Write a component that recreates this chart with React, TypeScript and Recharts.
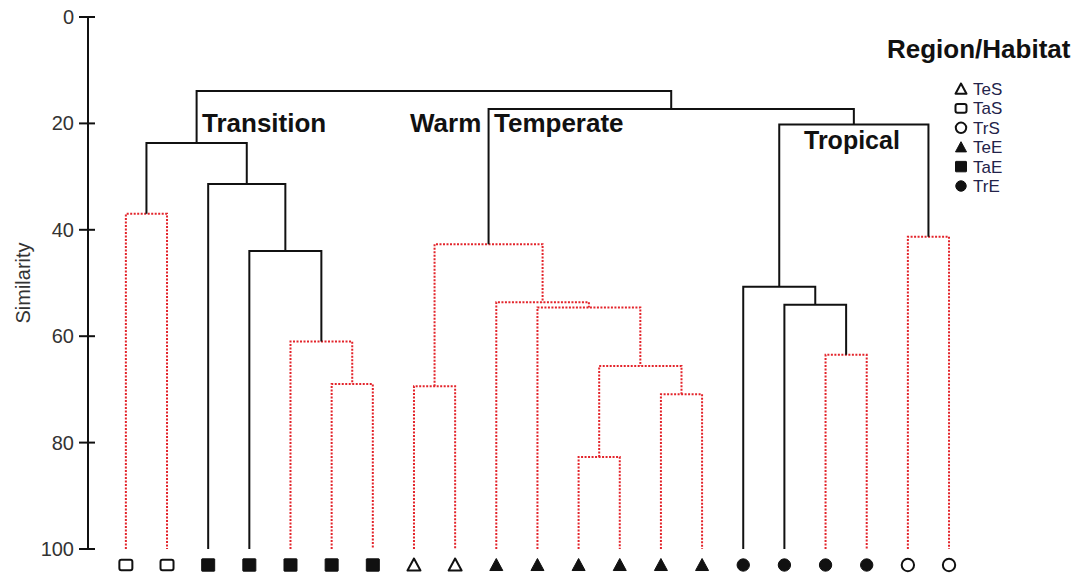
import { ComposedChart, Line, Scatter, XAxis, YAxis } from "recharts";

// leaf order along the bottom of the dendrogram
const leafHabitats = [
  "TaS", "TaS", "TaE", "TaE", "TaE", "TaE", "TaE",
  "TeS", "TeS", "TeE", "TeE", "TeE", "TeE", "TeE", "TeE",
  "TrE", "TrE", "TrE", "TrE", "TrS", "TrS",
];

// merge k joins two nodes; leaves are 0..20, merge k becomes node 21 + k
const mergePairs: Array<[number, number]> = [
  [0, 1], [5, 6], [4, 22], [3, 23], [2, 24], [21, 25],
  [7, 8], [11, 12], [13, 14], [28, 29], [10, 30], [9, 31], [27, 32],
  [17, 18], [16, 34], [15, 35], [19, 20], [36, 37], [33, 38], [26, 39],
];
const mergeSimilarity = [
  37.0, 69.0, 61.0, 44.0, 31.4, 23.7,
  69.4, 82.7, 70.9, 65.6, 54.6, 53.6, 42.7,
  63.5, 54.1, 50.7, 41.3, 20.2, 17.3, 13.9,
];
// red dotted = no significant structure below this split
const mergeDotted = [
  true, true, true, false, false, false,
  true, true, true, true, true, true, true,
  true, false, false, true, false, false, false,
];

const yTicks = [0, 20, 40, 60, 80, 100];
const legendHabitats = ["TeS", "TaS", "TrS", "TeE", "TaE", "TrE"];

const FONT = "'Liberation Sans', Arial, sans-serif";
const INK = "#111";
const RED = "#e3242b";

// lay out the tree: each merge sits midway between its children
const nodeX: number[] = leafHabitats.map((_, i) => i + 1);
const nodeSim: number[] = leafHabitats.map(() => 100);
const links = mergePairs.map(([a, b], k) => {
  const s = mergeSimilarity[k];
  const pts = [
    { x: nodeX[a], s: nodeSim[a] },
    { x: nodeX[a], s },
    { x: nodeX[b], s },
    { x: nodeX[b], s: nodeSim[b] },
  ];
  nodeX.push((nodeX[a] + nodeX[b]) / 2);
  nodeSim.push(s);
  return { pts, dotted: mergeDotted[k] };
});

const leafPoints = leafHabitats.map((h, i) => ({ x: i + 1, s: 100, habitat: h }));

function HabitatMark({ habitat, cx, cy, r = 6 }: { habitat: string; cx: number; cy: number; r?: number }) {
  const open = habitat.endsWith("S");
  const fill = open ? "#fff" : INK;
  const sw = open ? 2 : 1;
  const kind = habitat.slice(0, 2);
  if (kind === "Te") {
    return (
      <polygon
        points={`${cx},${cy - r} ${cx - r},${cy + r * 0.85} ${cx + r},${cy + r * 0.85}`}
        fill={fill}
        stroke={INK}
        strokeWidth={sw}
        strokeLinejoin="round"
      />
    );
  }
  if (kind === "Ta") {
    return (
      <rect
        x={cx - r}
        y={cy - r * (open ? 0.8 : 0.95)}
        width={r * 2}
        height={r * (open ? 1.6 : 1.9)}
        rx={open ? 2 : 0.5}
        fill={fill}
        stroke={INK}
        strokeWidth={sw}
      />
    );
  }
  return <circle cx={cx} cy={cy} r={r * 0.95} fill={fill} stroke={INK} strokeWidth={sw} />;
}

function SimTick(props: any) {
  const { x, y, payload } = props;
  return (
    <g>
      <line x1={x - 9} x2={x + 7} y1={y} y2={y} stroke={INK} strokeWidth={2} />
      <text x={x - 14} y={y} dy="0.35em" textAnchor="end" fontSize={20} fill="#333" fontFamily={FONT}>
        {payload.value}
      </text>
    </g>
  );
}

function LeafShape(props: any) {
  const { cx, cy, payload } = props;
  // markers hang just below the 100% baseline
  return <HabitatMark habitat={payload.habitat} cx={cx} cy={cy + 16} r={6.5} />;
}

export default function App() {
  return (
    <div style={{ position: "absolute", left: 0, top: 0, width: 1076, height: 573, background: "#fff", fontFamily: FONT }}>
      <ComposedChart width={1076} height={573} margin={{ top: 17, right: 3.5, bottom: 24, left: 0 }}>
        <XAxis type="number" dataKey="x" domain={[0.08, 24]} hide />
        <YAxis
          type="number"
          dataKey="s"
          domain={[0, 100]}
          reversed
          ticks={yTicks}
          interval={0}
          width={88}
          tickSize={0}
          tickMargin={0}
          tickLine={false}
          axisLine={{ stroke: INK, strokeWidth: 2 }}
          tick={SimTick}
          label={{
            value: "Similarity",
            angle: -90,
            position: "insideLeft",
            offset: 23,
            fill: "#333",
            fontSize: 20,
            style: { textAnchor: "middle" },
          }}
        />
        {links.map((l, i) => (
          <Line
            key={i}
            data={l.pts}
            dataKey="s"
            type="linear"
            stroke={l.dotted ? RED : INK}
            strokeWidth={2}
            strokeDasharray={l.dotted ? "2 1.5" : undefined}
            dot={false}
            activeDot={false}
            legendType="none"
            isAnimationActive={false}
          />
        ))}
        <Scatter data={leafPoints} shape={LeafShape} isAnimationActive={false} legendType="none" />
      </ComposedChart>
      <svg
        width={1076}
        height={573}
        style={{ position: "absolute", left: 0, top: 0, pointerEvents: "none" }}
        fontFamily={FONT}
      >
        <text x={202} y={132} fontSize={26} fontWeight="bold" fill={INK}>Transition</text>
        <text y={132} fontSize={26} fontWeight="bold" fill={INK}>
          <tspan x={410}>Warm</tspan>
          <tspan x={494}>Temperate</tspan>
        </text>
        <text x={804} y={149} fontSize={25} fontWeight="bold" fill={INK}>Tropical</text>
        <text x={887} y={58} fontSize={26} fontWeight="bold" fill={INK}>Region/Habitat</text>
        {legendHabitats.map((h, i) => {
          const cy = 89 + i * 19.4;
          return (
            <g key={h}>
              <HabitatMark habitat={h} cx={961} cy={cy} r={5.5} />
              <text x={973} y={cy} dy="0.35em" fontSize={17} fill="#23234a">{h}</text>
            </g>
          );
        })}
      </svg>
    </div>
  );
}
